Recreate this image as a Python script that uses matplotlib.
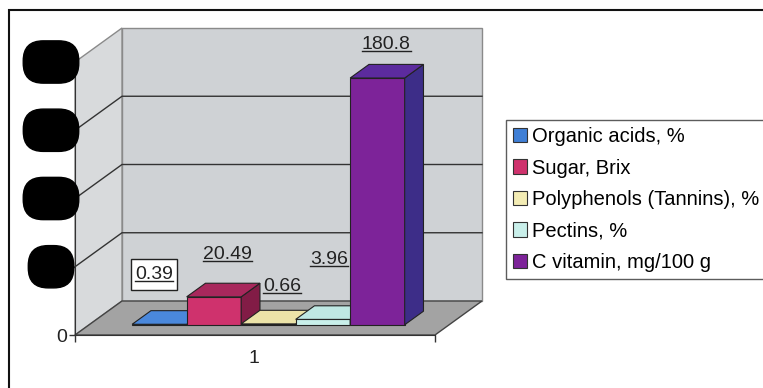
import numpy as np
import matplotlib
matplotlib.use('Agg')
import matplotlib.pyplot as plt
from matplotlib.patches import Polygon, Patch, Rectangle
from matplotlib.lines import Line2D
from matplotlib.transforms import ScaledTranslation

series = ['Organic acids, %', 'Sugar, Brix', 'Polyphenols (Tannins), %',
          'Pectins, %', 'C vitamin, mg/100 g']
values = [0.39, 20.49, 0.66, 3.96, 180.8]
category = '1'
y_ticks = [0, 50, 100, 150, 200]

front_colors = ['#3f7fd6', '#cf326d', '#f3ecb4', '#c9efea', '#7d2399']
top_colors = ['#4a88dc', '#a8285c', '#ece3a8', '#bfe8e3', '#5c2b9e']
side_colors = ['#2c5ea8', '#821c46', '#c8bf88', '#9cc8c3', '#3d2d88']

# where each value label sits relative to the top of its bar (pixels)
label_offsets = [(-5, 50), (14, 42), (14, 37), (6, 60), (9, 34)]

plt.rcParams['font.family'] = ['Liberation Sans', 'DejaVu Sans']

W, H = 763, 388
fig = plt.figure(figsize=(W / 100, H / 100), dpi=100)
ax = fig.add_axes([75 / W, 1 - 335 / H, 360 / W, 273 / H])
x0, x1 = -1.29, 5.315
ax.set_xlim(x0, x1)
ax.set_ylim(y_ticks[0], y_ticks[-1])
ax.patch.set_visible(False)

# depth direction of the pseudo-3d box, in pixels
DX, DY = 47, 34
D0, D1 = 0.3, 0.7   # bar depth range


def proj(pts):
    """(x, value, depth) -> data coords of the front plane"""
    pts = np.asarray(pts, dtype=float)
    disp = ax.transData.transform(pts[:, :2])
    disp[:, 0] += pts[:, 2] * DX
    disp[:, 1] += pts[:, 2] * DY
    return ax.transData.inverted().transform(disp)


def face(pts, fc, ec='#222222', lw=0.8, z=1):
    ax.add_patch(Polygon(proj(pts), closed=True, fc=fc, ec=ec, lw=lw,
                         zorder=z, clip_on=False))


top = y_ticks[-1]
# walls and floor
face([(x0, 0, 1), (x1, 0, 1), (x1, top, 1), (x0, top, 1)], '#cfd2d5', ec='#8a8a8a', lw=1, z=1)
face([(x0, 0, 0), (x0, 0, 1), (x0, top, 1), (x0, top, 0)], '#d8dadc', ec='#8a8a8a', lw=1, z=1)
face([(x0, 0, 0), (x1, 0, 0), (x1, 0, 1), (x0, 0, 1)], '#a3a3a3', ec='#444444', lw=1, z=1.5)

for v in y_ticks[1:-1]:
    p = proj([(x0, v, 0), (x0, v, 1), (x1, v, 1)])
    ax.plot(p[:, 0], p[:, 1], color='#333333', lw=1, zorder=2, clip_on=False)

# bars: front faces through ax.bar, shifted back to the bar depth
xs = np.arange(len(values))
front_shift = ax.transData + ScaledTranslation(D0 * DX / 100, D0 * DY / 100, fig.dpi_scale_trans)
bars = ax.bar(xs, values, width=1, color=front_colors, edgecolor='#222222', linewidth=0.8)
for i, (b, x, v) in enumerate(zip(bars, xs, values)):
    z = 3 + i * 0.1
    b.set_transform(front_shift)
    b.set_zorder(z)
    b.set_clip_on(False)
    face([(x + 0.5, 0, D0), (x + 0.5, 0, D1), (x + 0.5, v, D1), (x + 0.5, v, D0)],
         side_colors[i], z=z + 0.01)
    face([(x - 0.5, v, D0), (x + 0.5, v, D0), (x + 0.5, v, D1), (x - 0.5, v, D1)],
         top_colors[i], z=z + 0.02)

# value labels
labels = []
for i, (x, v) in enumerate(zip(xs, values)):
    t = ax.annotate(f'{v:g}', xy=(x, v), xycoords=front_shift,
                    xytext=label_offsets[i], textcoords='offset pixels',
                    ha='center', va='center', fontsize=14, color='#222222',
                    zorder=10, annotation_clip=False)
    labels.append(t)

# axes
for s in ['top', 'right']:
    ax.spines[s].set_visible(False)
ax.spines['left'].set_color('#333333')
ax.spines['bottom'].set_color('#333333')
ax.spines['left'].set_zorder(2.5)
ax.spines['bottom'].set_zorder(2.5)

ax.set_yticks(y_ticks)
ax.set_yticklabels(['0'] + [''] * (len(y_ticks) - 1))
ax.tick_params(axis='y', length=4.5, width=1, color='#333333', labelsize=14,
               labelcolor='#222222', pad=1.5)
ax.set_xticks([2])
ax.set_xticklabels([category])
ax.set_xticks([x0, x1], minor=True)
ax.tick_params(axis='x', which='major', length=0, labelsize=14, labelcolor='#222222', pad=11)
ax.tick_params(axis='x', which='minor', length=5, width=1, color='#333333')

# value axis labels, blacked out
for v in y_ticks[1:]:
    ax.annotate(str(v), xy=(x0, v), xycoords='data', xytext=(-24, 0),
                textcoords='offset pixels', ha='center', va='center',
                fontsize=13, color='black', zorder=12, annotation_clip=False,
                bbox=dict(boxstyle='round,pad=0.7,rounding_size=1.1', fc='black', ec='black'))

handles = [Patch(fc=c, ec='#333333', lw=0.8) for c in front_colors]
leg = fig.legend(handles, series, loc='upper left',
                 bbox_to_anchor=(506 / W, 1 - 120 / H), fontsize=14.5,
                 frameon=True, fancybox=False, edgecolor='#333333',
                 handlelength=0.7, handleheight=0.7, handletextpad=0.25,
                 labelspacing=0.62, borderpad=0.35, borderaxespad=0)
leg.get_frame().set_linewidth(1)

# outer border
fig.add_artist(Rectangle((9 / W, -0.1), 1.1, 1.1 - 10 / H,
                         transform=fig.transFigure, fill=False, ec='#111111', lw=1.5))

# underline the value labels, box around the first one
fig.canvas.draw()
r = fig.canvas.get_renderer()
inv = ax.transData.inverted()
for i, t in enumerate(labels):
    bb = t.get_window_extent(r)
    (a0, b0), (a1, _) = inv.transform([(bb.x0, bb.y0 + 2), (bb.x1, bb.y0 + 2)])
    ax.add_line(Line2D([a0, a1], [b0, b0], color='#222222', lw=1, zorder=11, clip_on=False))
    if i == 0:
        (c0, d0), (c1, d1) = inv.transform([(bb.x0 - 4, bb.y0 - 7), (bb.x1 + 4, bb.y1 + 7)])
        ax.add_patch(Rectangle((c0, d0), c1 - c0, d1 - d0, fc='white', ec='#222222',
                               lw=1, zorder=9, clip_on=False))

fig.savefig('out.png', dpi=100)
